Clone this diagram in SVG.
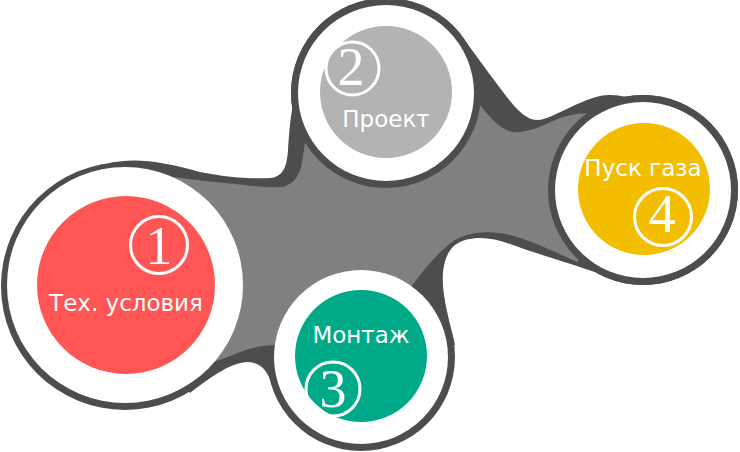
<svg xmlns="http://www.w3.org/2000/svg" width="740" height="452" viewBox="0 0 740 452">
<style>
.dk{fill:#4d4d4d}
.md{fill:#808080}
.wh{fill:#fff}
.lbl{font-family:"DejaVu Sans",Verdana,sans-serif;font-size:23px;fill:#fff;text-anchor:middle}
.num{font-family:"Liberation Serif","DejaVu Serif",serif;font-size:54px;fill:#fff;text-anchor:middle}
.ring{fill:none;stroke:#fff;stroke-width:3}
</style>
<rect width="740" height="452" fill="#fff"/>
<g id="connectors">
 <circle class="dk" cx="125" cy="286" r="124"/>
 <circle class="dk" cx="386" cy="93" r="95"/>
 <circle class="dk" cx="361" cy="357" r="94"/>
 <circle class="dk" cx="643" cy="190" r="95"/>
 <path class="dk" d="M110,163 C135,157 165,162 200,172 C230,178 255,179 270,178 C284,177 287,165 288,150 C289,135 290,118 294,100 L386,93 L463,38 C472,50 485,68 500,88 C515,108 525,120 538,120 C552,119 575,102 600,96 C610,94 618,95 626,97 L643,190 L595,272 C575,265 540,255 510,244 C490,237 470,235 455,245 C443,255 441,275 444,295 C447,315 452,330 455,345 L361,357 L272,385 C268,372 262,363 248,362 C232,362 212,376 190,393 L125,286 Z"/>
 <path class="md" d="M173,177 C195,180 215,182 235,184 C255,186 270,188 280,187 C293,186 300,175 302,163 C304,150 305,140 308,128 L386,93 L480,105 C488,115 498,128 512,132 C528,134 545,124 560,118 C572,114 585,112 596,115 L643,190 L577,262 C555,252 530,240 510,235 C490,230 470,232 455,240 C440,250 425,268 411,287 L361,357 L276,345 C262,345 245,349 233,355 C225,358 219,360 214,362 L125,285 Z"/>
</g>
<g id="node1">
 <circle class="wh" cx="125" cy="285" r="118"/>
 <circle cx="126" cy="285" r="89" fill="#ff5555"/>
 <circle class="ring" cx="159" cy="245" r="28.5"/>
 <text class="num" x="159" y="264">1</text>
 <text class="lbl" x="126" y="311">Тех. условия</text>
</g>
<g id="node2">
 <circle class="dk" cx="386" cy="93" r="95"/>
 <circle class="wh" cx="386" cy="93" r="88"/>
 <circle cx="386" cy="92" r="66" fill="#b3b3b3"/>
 <circle class="ring" cx="352.5" cy="68.5" r="26.5"/>
 <text class="num" x="351" y="85">2</text>
 <text class="lbl" x="386" y="127">Проект</text>
</g>
<g id="node3">
 <circle class="wh" cx="361" cy="357" r="87"/>
 <circle cx="361" cy="356" r="66" fill="#00aa88"/>
 <circle class="ring" cx="333" cy="389" r="27"/>
 <text class="num" x="333" y="407">3</text>
 <text class="lbl" x="361" y="343">Монтаж</text>
</g>
<g id="node4">
 <circle class="dk" cx="643" cy="190" r="95"/>
 <circle class="wh" cx="643" cy="190" r="88"/>
 <circle cx="644" cy="189" r="66" fill="#f4be00"/>
 <circle class="ring" cx="663" cy="217" r="28.5"/>
 <text class="num" x="662" y="232">4</text>
 <text class="lbl" x="643" y="176">Пуск газа</text>
</g>
</svg>
